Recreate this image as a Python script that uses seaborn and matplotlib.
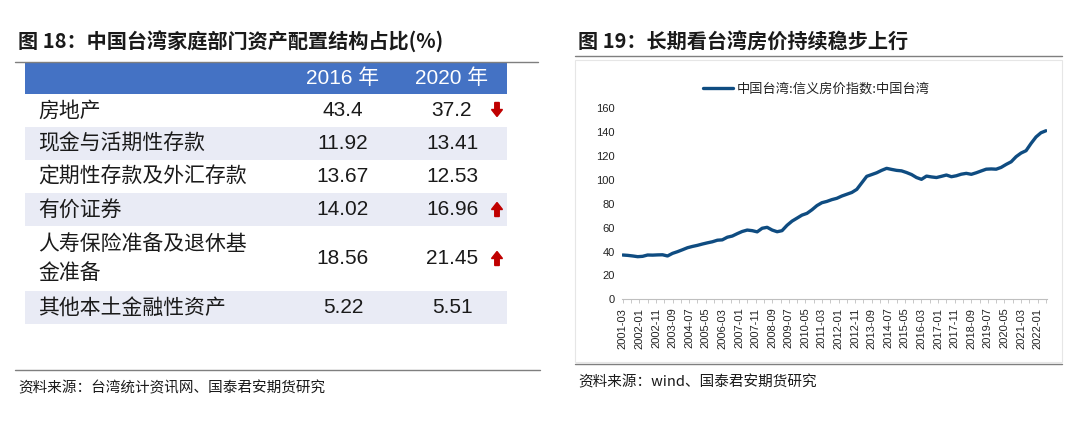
import matplotlib
matplotlib.use("Agg")
import matplotlib.pyplot as plt
from matplotlib.patches import Rectangle, FancyArrow
import seaborn as sns
import pandas as pd

# ---------------- data ----------------
# Table (left panel)
categories = ['房地产', '现金与活期性存款', '定期性存款及外汇存款', '有价证券',
              '人寿保险准备及退休基\n金准备', '其他本土金融性资产']
years = ['2016 年', '2020 年']
v2016 = ['43.4', '11.92', '13.67', '14.02', '18.56', '5.22']
v2020 = ['37.2', '13.41', '12.53', '16.96', '21.45', '5.51']
trend = ['down', '', '', 'up', 'up', '']

# Line chart (right panel): quarterly readings, 2001-03 .. 2022-06
start_month = '2001-03'
index_values = [
    37.1, 36.8, 36.3, 35.7,      # 2001
    36.0, 37.1, 37.0, 37.2,      # 2002
    37.3, 36.3, 38.5, 39.9,      # 2003
    41.5, 43.2, 44.3, 45.2,      # 2004
    46.3, 47.3, 48.2, 49.5,      # 2005
    49.8, 52.0, 53.0, 55.0,      # 2006
    56.8, 58.0, 57.5, 56.5,      # 2007
    59.5, 60.3, 58.0, 56.6,      # 2008
    57.5, 62.0, 65.5, 68.0,      # 2009
    70.5, 72.0, 75.0, 78.5,      # 2010
    80.9, 82.0, 83.5, 84.6,      # 2011
    86.5, 88.0, 89.5, 92.1,      # 2012
    97.5, 103.0, 104.5, 106.0,   # 2013
    108.0, 109.7, 108.8, 108.0,  # 2014
    107.6, 106.2, 104.5, 102.0,  # 2015
    100.5, 103.2, 102.5, 102.0,  # 2016
    103.0, 104.1, 102.7, 103.5,  # 2017
    104.8, 105.5, 104.7, 106.0,  # 2018
    107.5, 109.0, 109.2, 109.0,  # 2019
    110.5, 113.0, 115.2, 119.5,  # 2020
    122.5, 124.5, 130.6, 136.0,  # 2021
    139.5, 141.2,                # 2022
]
tick_labels = ['2001-03', '2002-01', '2002-11', '2003-09', '2004-07', '2005-05',
               '2006-03', '2007-01', '2007-11', '2008-09', '2009-07', '2010-05',
               '2011-03', '2012-01', '2012-11', '2013-09', '2014-07', '2015-05',
               '2016-03', '2017-01', '2017-11', '2018-09', '2019-07', '2020-05',
               '2021-03', '2022-01']
series_name = '中国台湾:信义房价指数:中国台湾'

# ---------------- style ----------------
sns.set_theme(style='white')
CJK = ['Noto Sans CJK SC', 'DejaVu Sans']
NUM = ['Liberation Sans', 'Noto Sans CJK SC', 'DejaVu Sans']
plt.rcParams['font.family'] = CJK
plt.rcParams['axes.unicode_minus'] = False

W, H = 1080, 425
fig = plt.figure(figsize=(W / 100, H / 100), dpi=100)
fig.patch.set_facecolor('white')

bg = fig.add_axes([0, 0, 1, 1])
bg.set_xlim(0, W)
bg.set_ylim(H, 0)
bg.axis('off')
bg.set_zorder(0)

TXT = '#1a1a1a'
RULE = '#7f7f7f'

# ---------------- left panel: table ----------------
bg.text(18, 42, '图 18：中国台湾家庭部门资产配置结构占比(%)', fontsize=14.5,
        fontweight='bold', color=TXT, va='center', ha='left')
bg.plot([15, 538], [62, 62], color=RULE, lw=1.0)

x0, x1 = 25, 507
col_x = [343, 452]
bg.add_patch(Rectangle((x0, 62.5), x1 - x0, 31.5, facecolor='#4472C4', edgecolor='none'))
for cx, yl in zip(col_x, years):
    bg.text(cx, 78.5, yl, fontsize=15, color='white', ha='center', va='center',
            family=NUM)

row_h = [33, 33, 33, 33, 65, 33]
y = 94
for i, (cat, a, b, t) in enumerate(zip(categories, v2016, v2020, trend)):
    h = row_h[i]
    if i % 2 == 1:
        bg.add_patch(Rectangle((x0, y), x1 - x0, h, facecolor='#E9EBF5', edgecolor='none'))
    yc = y + h / 2
    bg.text(38, yc, cat, fontsize=15, color=TXT, ha='left', va='center',
            linespacing=1.45)
    bg.text(col_x[0], yc, a, fontsize=15, color=TXT, ha='center', va='center',
            family=NUM)
    bg.text(col_x[1], yc, b, fontsize=15, color=TXT, ha='center', va='center',
            family=NUM)
    if t == 'down':
        bg.add_patch(FancyArrow(497, yc - 8, 0, 14, width=4.5, head_width=11,
                                head_length=7, length_includes_head=True,
                                color='#C00000'))
    elif t == 'up':
        bg.add_patch(FancyArrow(497, yc + 7, 0, -14, width=4.5, head_width=11,
                                head_length=7, length_includes_head=True,
                                color='#C00000'))
    y += h

bg.plot([15, 540], [370, 370], color=RULE, lw=1.0)
bg.text(18, 388, '资料来源：台湾统计资讯网、国泰君安期货研究', fontsize=10.5,
        color=TXT, ha='left', va='center')

# ---------------- right panel ----------------
bg.text(578, 42, '图 19：长期看台湾房价持续稳步上行', fontsize=14.5,
        fontweight='bold', color=TXT, va='center', ha='left')
bg.plot([575, 1062], [56, 56], color=RULE, lw=1.0)
bg.add_patch(Rectangle((575, 60), 1062 - 575, 302, facecolor='none',
                       edgecolor='#e6e6e6', lw=0.8))
bg.plot([575, 1062], [364, 364], color=RULE, lw=1.0)
bg.text(578, 382, '资料来源：wind、国泰君安期货研究', fontsize=10.5,
        color=TXT, ha='left', va='center')

df = pd.DataFrame({
    'date': pd.date_range(start_month, periods=len(index_values), freq='3MS'),
    'value': index_values,
})

left, right = 622 / W, 1047 / W
bottom, top = 1 - 299.3 / H, 1 - 108.3 / H
ax = fig.add_axes([left, bottom, right - left, top - bottom])
ax.set_zorder(2)
ax.patch.set_alpha(0)
sns.lineplot(data=df, x='date', y='value', ax=ax, color='#0F4C81', lw=2.4,
             label=series_name)

ax.set_ylim(0, 160)
ax.set_yticks(range(0, 161, 20))
ax.set_xlim(pd.Timestamp('2001-02-16'), pd.Timestamp('2022-06-20'))
ticks = [pd.Timestamp(t + '-01') for t in tick_labels]
ax.set_xticks(ticks)
ax.set_xticklabels(tick_labels, rotation=90, fontsize=8,
                   family=['Liberation Sans', 'DejaVu Sans'])
minor = pd.date_range('2001-03-01', '2022-06-01', freq='5MS')
ax.set_xticks(minor, minor=True)
for lab in ax.get_yticklabels():
    lab.set_fontsize(8)
    lab.set_family(['Liberation Sans', 'DejaVu Sans'])
ax.set_xlabel('')
ax.set_ylabel('')
for s in ['top', 'right', 'left']:
    ax.spines[s].set_visible(False)
ax.spines['bottom'].set_color('#bfbfbf')
ax.spines['bottom'].set_linewidth(0.8)
ax.tick_params(axis='y', length=0, pad=5, colors='#222222')
ax.tick_params(axis='x', which='major', direction='out', length=3, width=0.6,
               color='#bfbfbf', pad=3, labelcolor='#222222', bottom=True)
ax.tick_params(axis='x', which='minor', direction='out', length=3, width=0.6,
               color='#bfbfbf', bottom=True)
ax.grid(False)

leg = ax.legend(loc='center left', bbox_to_anchor=(703 / W, 1 - 89 / H),
                bbox_transform=fig.transFigure, frameon=False, fontsize=9.5,
                handlelength=2.3, handletextpad=0.25, borderpad=0,
                borderaxespad=0)
for t in leg.get_texts():
    t.set_color('#222222')

fig.savefig('out.png', dpi=100, facecolor='white')
